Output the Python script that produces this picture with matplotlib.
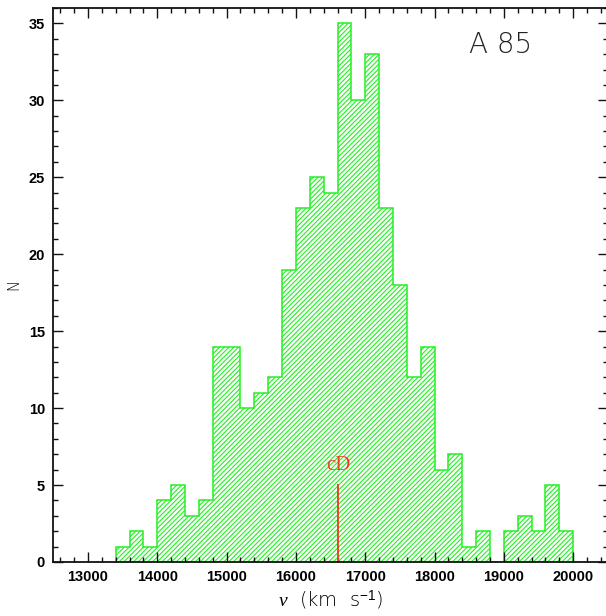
import numpy as np
import matplotlib
matplotlib.use("Agg")
import matplotlib.pyplot as plt
from matplotlib.ticker import MultipleLocator

# ---- data ----
bin_start = 13400
bin_width = 200
counts = [1, 2, 1, 4, 5, 3, 4, 14, 14, 10, 11, 12, 19, 23, 25, 24, 35, 30, 33,
          23, 18, 12, 14, 6, 7, 1, 2, 0, 2, 3, 2, 5, 2]
bin_edges = bin_start + bin_width * np.arange(len(counts) + 1)
cd_velocity = 16610
cd_height = 5
cluster_name = "A 85"
x_ticks = [13000, 14000, 15000, 16000, 17000, 18000, 19000, 20000]
y_ticks = [0, 5, 10, 15, 20, 25, 30, 35]

plt.rcParams['mathtext.fontset'] = 'custom'
plt.rcParams['mathtext.rm'] = 'Liberation Sans'
plt.rcParams['mathtext.it'] = 'Liberation Serif:italic'
plt.rcParams['hatch.linewidth'] = 0.8

fig = plt.figure(figsize=(6.06, 6.16), dpi=100)
ax = fig.add_axes([0.088, 0.0877, 0.915, 0.8994])

green = '#22f022'
ax.stairs(counts, bin_edges, fill=True, facecolor='none', edgecolor=green,
          hatch='///////', linewidth=0.0)
ax.stairs(counts, bin_edges, fill=False, edgecolor=green, linewidth=1.1)

red = '#ee4422'
ax.plot([cd_velocity, cd_velocity], [0, cd_height], color=red, lw=1.4)
ax.text(cd_velocity, 6.0, 'cD', color=red, ha='center', va='baseline',
        family='Liberation Serif', fontsize=15)

ax.text(18950, 33.6, cluster_name, ha='center', va='center',
        family='DejaVu Sans', fontweight='light', fontsize=20, color='#222222')

ax.set_xlim(12500, 20500)
ax.set_ylim(0, 36)
ax.set_xticks(x_ticks)
ax.set_yticks(y_ticks)
ax.xaxis.set_minor_locator(MultipleLocator(200))
ax.yaxis.set_minor_locator(MultipleLocator(1))
ax.tick_params(which='both', direction='in', top=True, right=True, width=1.0,
               color='#111111')
ax.tick_params(which='major', length=7.2, pad=6)
ax.tick_params(which='minor', length=3.6)
for lab in ax.get_xticklabels() + ax.get_yticklabels():
    lab.set_fontfamily('Liberation Sans')
    lab.set_fontweight('bold')
    lab.set_fontsize(10.5)
for s in ax.spines.values():
    s.set_linewidth(1.3)
    s.set_color('#111111')

ax.set_ylabel('N', family='DejaVu Sans', fontweight='light', fontsize=10.5, labelpad=5)
ax.set_xlabel(r'$\mathit{v}$  (km  s$^{-1}$)', family='DejaVu Sans',
              fontweight='light', fontsize=14, labelpad=3)

fig.savefig('out.png', dpi=100)
